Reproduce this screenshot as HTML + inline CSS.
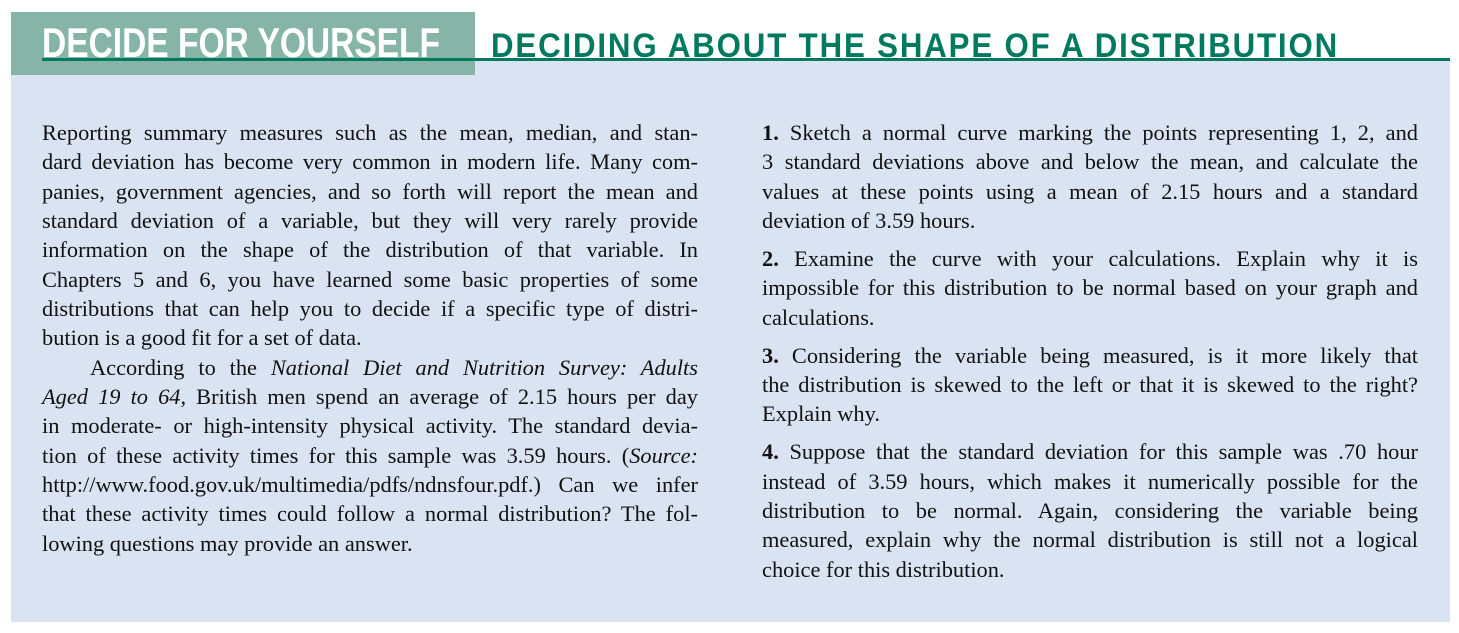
<!DOCTYPE html>
<html><head><meta charset="utf-8">
<style>
html,body{margin:0;padding:0;background:#fff;width:1459px;height:633px;overflow:hidden;position:relative}
#panel{position:absolute;left:11px;top:59px;width:1439px;height:563px;background:#dae3f2}
#tag{position:absolute;left:11px;top:12px;width:464px;height:63px;background:#86b5a8}
#rule{position:absolute;left:42px;top:58px;width:1408px;height:3px;background:#007a5e}
.t{position:absolute;font-family:"Liberation Sans Narrow","Liberation Sans",sans-serif;font-weight:bold;white-space:nowrap;transform-origin:0 0;line-height:1}
#t1{left:42px;top:22px;font-size:42px;color:#fff}
#t2{left:491px;top:29px;font-size:34px;color:#007a5e;letter-spacing:2px}
.col{position:absolute;font-family:"Liberation Serif",serif;font-size:22.4px;color:#111}
#left{left:42px;top:118px;width:656px}
#right{left:762px;top:118px;width:656px}
.l{height:29.35px;line-height:29.35px;white-space:nowrap;text-align:justify;text-align-last:justify}
.e{text-align-last:left}
.p{margin-bottom:8.6px}
.ind{padding-left:48px}
</style></head><body>
<div id="panel"></div>
<div id="tag"></div>
<div id="rule"></div>
<div class="t" id="t1">DECIDE FOR YOURSELF</div>
<div class="t" id="t2">DECIDING ABOUT THE SHAPE OF A DISTRIBUTION</div>
<div class="col" id="left">
<div class="l">Reporting summary measures such as the mean, median, and stan-</div>
<div class="l">dard deviation has become very common in modern life. Many com-</div>
<div class="l">panies, government agencies, and so forth will report the mean and</div>
<div class="l">standard deviation of a variable, but they will very rarely provide</div>
<div class="l">information on the shape of the distribution of that variable. In</div>
<div class="l">Chapters 5 and 6, you have learned some basic properties of some</div>
<div class="l">distributions that can help you to decide if a specific type of distri-</div>
<div class="l e">bution is a good fit for a set of data.</div>
<div class="l ind">According to the <i>National Diet and Nutrition Survey: Adults</i></div>
<div class="l"><i>Aged 19 to 64</i>, British men spend an average of 2.15 hours per day</div>
<div class="l">in moderate- or high-intensity physical activity. The standard devia-</div>
<div class="l">tion of these activity times for this sample was 3.59 hours. (<i>Source:</i></div>
<div class="l">http://www.food.gov.uk/multimedia/pdfs/ndnsfour.pdf.) Can we infer</div>
<div class="l">that these activity times could follow a normal distribution? The fol-</div>
<div class="l e">lowing questions may provide an answer.</div>
</div>
<div class="col" id="right">
<div class="p">
<div class="l"><b>1.</b> Sketch a normal curve marking the points representing 1, 2, and</div>
<div class="l">3 standard deviations above and below the mean, and calculate the</div>
<div class="l">values at these points using a mean of 2.15 hours and a standard</div>
<div class="l e">deviation of 3.59 hours.</div></div>
<div class="p">
<div class="l"><b>2.</b> Examine the curve with your calculations. Explain why it is</div>
<div class="l">impossible for this distribution to be normal based on your graph and</div>
<div class="l e">calculations.</div></div>
<div class="p">
<div class="l"><b>3.</b> Considering the variable being measured, is it more likely that</div>
<div class="l">the distribution is skewed to the left or that it is skewed to the right?</div>
<div class="l e">Explain why.</div></div>
<div class="p">
<div class="l"><b>4.</b> Suppose that the standard deviation for this sample was .70 hour</div>
<div class="l">instead of 3.59 hours, which makes it numerically possible for the</div>
<div class="l">distribution to be normal. Again, considering the variable being</div>
<div class="l">measured, explain why the normal distribution is still not a logical</div>
<div class="l e">choice for this distribution.</div></div>
</div>
<script>
function fit(id,w){var e=document.getElementById(id);var r=e.getBoundingClientRect().width;if(r>0)e.style.transform='scaleX('+(w/r)+')';}
fit('t1',398);fit('t2',848);
</script>
</body></html>
